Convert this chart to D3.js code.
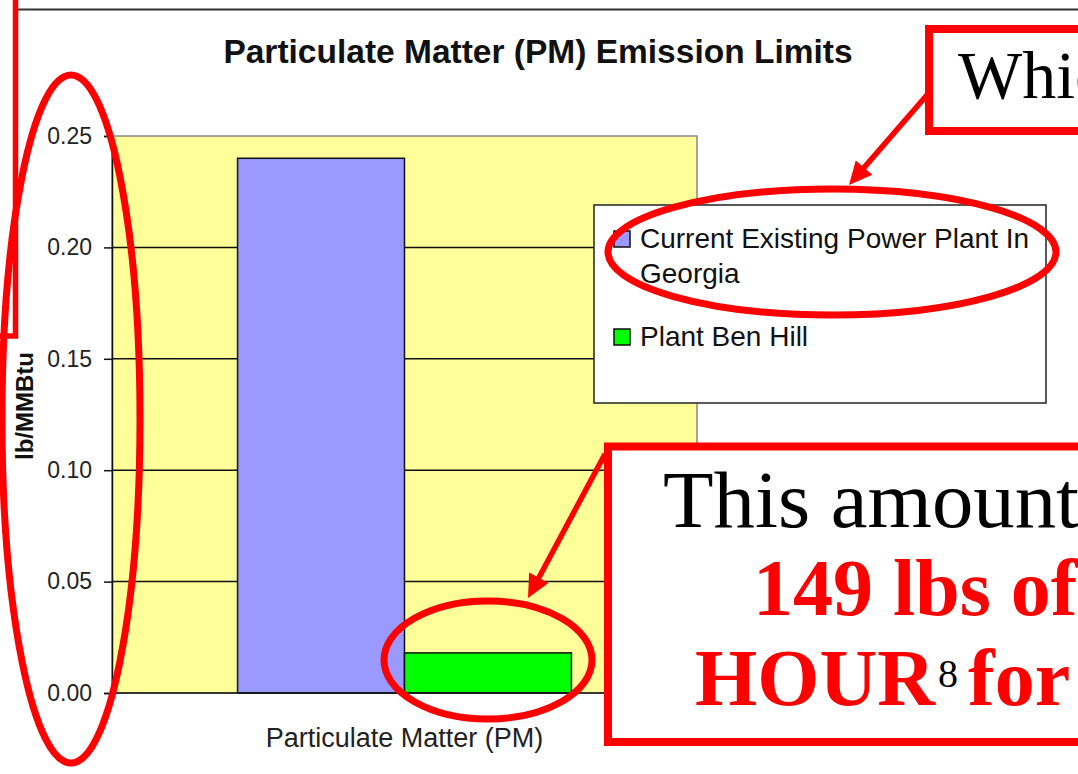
<!DOCTYPE html>
<html>
<head>
<meta charset="utf-8">
<script src="https://cdn.jsdelivr.net/npm/d3@7"></script>
<style>
  html, body { margin: 0; padding: 0; background: #fff; overflow: hidden; }
  svg { display: block; }
</style>
</head>
<body>
<svg id="chart" width="1078" height="774"></svg>
<script>
// ---- data ----
const categories = ["Particulate Matter (PM)"];
const seriesNames = ["Current Existing Power Plant In Georgia", "Plant Ben Hill"];
const legendLines = [["Current Existing Power Plant In", "Georgia"], ["Plant Ben Hill"]];
const seriesValues = [0.24, 0.018];
const seriesColors = ["#9999ff", "#00ff00"];
const yTicks = [0, 0.05, 0.10, 0.15, 0.20, 0.25];
const chartTitle = "Particulate Matter (PM) Emission Limits";
const yTitle = "lb/MMBtu";

const svg = d3.select("#chart");
const plot = { left: 112, right: 697, top: 136, bottom: 693 };

// top rule
svg.append("line").attr("x1", 18).attr("x2", 1078).attr("y1", 9.5).attr("y2", 9.5)
  .attr("stroke", "#333").attr("stroke-width", 2);

const y = d3.scaleLinear().domain([0, 0.25]).range([plot.bottom, plot.top]);
const x0 = d3.scaleBand().domain(categories).range([plot.left, plot.right])
  .paddingInner(0).paddingOuter(0.376);
const x1 = d3.scaleBand().domain(seriesNames).range([0, x0.bandwidth()]).padding(0);

// plot background
svg.append("rect").attr("x", plot.left).attr("y", plot.top)
  .attr("width", plot.right - plot.left).attr("height", plot.bottom - plot.top)
  .attr("fill", "#ffff99").attr("stroke", "#888").attr("stroke-width", 1.5);

// gridlines
svg.append("g").selectAll("line").data(yTicks.filter(d => d > 0 && d < 0.25)).join("line")
  .attr("x1", plot.left).attr("x2", plot.right)
  .attr("y1", d => y(d)).attr("y2", d => y(d))
  .attr("stroke", "#111").attr("stroke-width", 1.5);

// bars
const g = svg.append("g");
categories.forEach(cat => {
  g.selectAll(null).data(seriesValues).join("rect")
    .attr("x", (d, i) => x0(cat) + x1(seriesNames[i]))
    .attr("y", d => y(d))
    .attr("width", x1.bandwidth())
    .attr("height", d => y(0) - y(d))
    .attr("fill", (d, i) => seriesColors[i])
    .attr("stroke", "#111").attr("stroke-width", 1.5);
});

// y axis
const yAxis = svg.append("g").attr("transform", `translate(${plot.left},0)`)
  .call(d3.axisLeft(y).tickValues(yTicks).tickFormat(d3.format(".2f")).tickSize(8).tickPadding(12));
yAxis.select(".domain").attr("stroke", "#111").attr("stroke-width", 1.5);
yAxis.selectAll(".tick line").attr("stroke", "#111").attr("stroke-width", 1.5);
yAxis.selectAll(".tick text").attr("font-family", "Liberation Sans, Arial, sans-serif")
  .attr("font-size", 23).attr("fill", "#222");

// x axis baseline
svg.append("line").attr("x1", plot.left).attr("x2", plot.right)
  .attr("y1", plot.bottom).attr("y2", plot.bottom).attr("stroke", "#111").attr("stroke-width", 1.5);

// x category label
svg.append("g").selectAll("text").data(categories).join("text")
  .attr("x", d => x0(d) + x0.bandwidth() / 2).attr("y", 747)
  .attr("text-anchor", "middle").attr("font-family", "Liberation Sans, Arial, sans-serif")
  .attr("font-size", 27).attr("fill", "#222").text(d => d);

// title
svg.append("text").attr("x", 538).attr("y", 63).attr("text-anchor", "middle")
  .attr("font-family", "Liberation Sans, Arial, sans-serif").attr("font-weight", "bold")
  .attr("font-size", 33.5).attr("fill", "#111").text(chartTitle);

// y title
svg.append("text").attr("transform", "translate(33,406) rotate(-90)").attr("text-anchor", "middle")
  .attr("font-family", "Liberation Sans, Arial, sans-serif").attr("font-weight", "bold")
  .attr("font-size", 24).attr("fill", "#111").text(yTitle);

// legend
const lg = svg.append("g");
lg.append("rect").attr("x", 594).attr("y", 205).attr("width", 452).attr("height", 198)
  .attr("fill", "#fff").attr("stroke", "#222").attr("stroke-width", 1.5);
const legendY = [231, 329];
seriesNames.forEach((s, i) => {
  lg.append("rect").attr("x", 614).attr("y", legendY[i]).attr("width", 16).attr("height", 16)
    .attr("fill", seriesColors[i]).attr("stroke", "#111").attr("stroke-width", 1.5);
  const t = lg.append("text").attr("font-family", "Liberation Sans, Arial, sans-serif")
    .attr("font-size", 28).attr("fill", "#111");
  legendLines[i].forEach((ln, j) => {
    t.append("tspan").attr("x", 640).attr("y", legendY[i] + 17 + j * 35).text(ln);
  });
});

// ---- annotations ----
const red = "#ff0000";
const ann = svg.append("g");

// left red box edge
ann.append("rect").attr("x", -100).attr("y", -100).attr("width", 115.5).attr("height", 436)
  .attr("fill", "none").attr("stroke", red).attr("stroke-width", 5.5);

// ellipses
const ellipses = [
  { cx: 71, cy: 419, rx: 69, ry: 344 },
  { cx: 832, cy: 252, rx: 224, ry: 63 },
  { cx: 488, cy: 660, rx: 104, ry: 59 }
];
ann.selectAll("ellipse").data(ellipses).join("ellipse")
  .attr("cx", d => d.cx).attr("cy", d => d.cy).attr("rx", d => d.rx).attr("ry", d => d.ry)
  .attr("fill", "none").attr("stroke", red).attr("stroke-width", 7);

// arrows
function arrow(x1, y1, x2, y2) {
  const dx = x2 - x1, dy = y2 - y1, L = Math.hypot(dx, dy);
  const ux = dx / L, uy = dy / L, px = -uy, py = ux;
  const hl = 23, hw = 11;
  const bx = x2 - ux * hl, by = y2 - uy * hl;
  ann.append("line").attr("x1", x1).attr("y1", y1).attr("x2", bx + ux * 2).attr("y2", by + uy * 2)
    .attr("stroke", red).attr("stroke-width", 5.5);
  ann.append("polygon").attr("points",
    `${x2},${y2} ${bx + px * hw},${by + py * hw} ${bx - px * hw},${by - py * hw}`).attr("fill", red);
}
arrow(927, 95, 849, 185);
arrow(605, 454, 528, 598);

// bottom box
ann.append("rect").attr("x", 608).attr("y", 446.5).attr("width", 600).attr("height", 295.5)
  .attr("fill", "#fff").attr("stroke", red).attr("stroke-width", 8);
const serif = "Liberation Serif, Times New Roman, serif";
ann.append("text").attr("x", 663).attr("y", 527).attr("font-family", serif).attr("font-size", 80)
  .attr("textLength", 416).attr("lengthAdjust", "spacingAndGlyphs")
  .attr("fill", "#000").text("This amount");
ann.append("text").attr("x", 753).attr("y", 615).attr("font-family", serif).attr("font-size", 80)
  .attr("font-weight", "bold").attr("fill", red).text("149 lbs of");
const hour = ann.append("text").attr("x", 695).attr("y", 705).attr("font-family", serif)
  .attr("font-size", 80).attr("font-weight", "bold").attr("fill", red);
hour.append("tspan").text("HOUR");
hour.append("tspan").attr("dx", 3).attr("dy", -18).attr("font-size", 40).attr("font-weight", "normal")
  .attr("fill", "#000").text("8");
hour.append("tspan").attr("x", 968).attr("y", 705).text("for");

// top box
ann.append("rect").attr("x", 929).attr("y", 29).attr("width", 300).attr("height", 102)
  .attr("fill", "#fff").attr("stroke", red).attr("stroke-width", 8);
ann.append("text").attr("x", 958).attr("y", 98).attr("font-family", serif).attr("font-size", 68)
  .attr("fill", "#000").text("Which");
</script>
</body>
</html>
